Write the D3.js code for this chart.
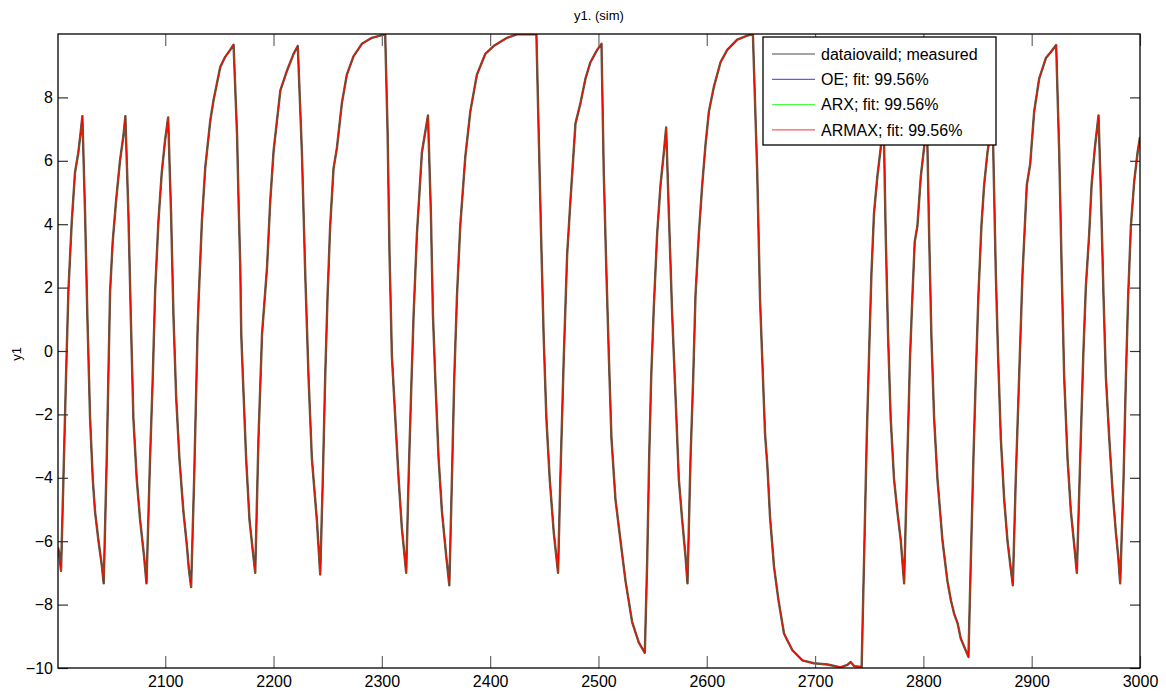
<!DOCTYPE html>
<html>
<head>
<meta charset="utf-8">
<script src="https://cdn.jsdelivr.net/npm/d3@7"></script>
<style>
  html, body { margin: 0; padding: 0; background: #fff; }
  svg { display: block; font-family: "Liberation Sans", Arial, sans-serif; }
</style>
</head>
<body>
<svg id="chart" width="1166" height="697"></svg>
<script>
// ---- data ----
const chartTitle = "y1. (sim)";
const yLabel = "y1";
const xTicks = [2100, 2200, 2300, 2400, 2500, 2600, 2700, 2800, 2900, 3000];
const yTicks = [-10, -8, -6, -4, -2, 0, 2, 4, 6, 8];
const legendLabels = ["dataiovaild; measured", "OE; fit: 99.56%", "ARX; fit: 99.56%", "ARMAX; fit: 99.56%"];
const seriesColors = ["#4a4a4a", "#0000ff", "#00ff00", "#ff0000"];

const sampleIndex = [
2001,2002.0,2003.8,2006.0,2008.4,2010.6,2013.7,2016.7,2019.8,2022.0,2023.5,
2026.0,2028.1,2030.6,2033.1,2035.2,2038.3,2041.4,2043.2,
2046.0,2047.5,2049.1,2051.5,2054.6,2058.3,2061.4,2063.2,
2066.0,2068.2,2070.6,2073.7,2076.8,2080.5,2082.7,
2086.0,2088.5,2090.7,2093.7,2096.8,2099.9,2102.7,
2105.4,2107.6,2110.1,2113.1,2116.8,2119.9,2121.8,2123.9,
2126.7,2129.8,2130.8,2133.9,2137.0,2141.6,2144.6,2150.8,2155.4,2160.0,2163.1,
2166.3,2167.7,2169.3,2170.2,2171.7,2174.7,2177.8,2180.6,2183.1,
2186.1,2189.4,2194.0,2197.0,2200.1,2206.3,2212.5,2218.6,2222.4,
2226.2,2229.3,2232.3,2235.4,2240.0,2243.1,
2245.5,2247.7,2249.9,2252.3,2255.4,2258.5,2263.1,2267.7,2273.9,2281.6,2290.8,2298.5,2303.1,
2305.3,2307.1,2309.3,2312.4,2315.5,2318.5,2322.5,
2324.7,2326.9,2329.3,2332.4,2337.0,2342.6,
2345.3,2347.2,2349.3,2352.4,2355.5,2359.5,2362.3,
2364.7,2366.9,2369.4,2372.4,2377.1,2381.7,2387.8,2395.5,2403.2,2415.6,2424.8,2442.7,
2444.8,2447.0,2449.4,2451.9,2455.0,2458.7,2462.7,
2464.8,2468.0,2471.1,2474.1,2478.8,2483.4,2488.0,2492.6,2498.8,2502.8,
2504.9,2507.4,2509.6,2512.0,2515.7,2520.3,2525.0,2531.1,2537.3,2542.8,
2545.0,2546.8,2548.7,2551.1,2554.2,2557.3,2560.4,2562.5,
2565.0,2568.1,2571.2,2574.2,2577.3,2580.4,2582.2,
2585.0,2587.5,2589.6,2592.7,2595.8,2598.9,2602.0,2606.6,2612.7,2618.9,2628.1,2637.4,2642.6,
2646.6,2649.2,2653.8,2656.0,2658.4,2662.1,2666.2,2671.3,2674.5,2679.1,2688.3,2698.8,2711.6,2723.6,
2729.8,2732.9,2736.0,2743.0,
2745.2,2747.7,2749.8,2752.0,2754.4,2757.5,2760.6,2762.8,
2763.7,2765.2,2767.4,2769.8,2772.9,2776.0,2779.1,2782.2,
2785.2,2787.7,2789.9,2792.0,2794.5,2797.6,2800.6,2802.8,
2803.7,2805.3,2807.4,2809.9,2813.0,2817.6,2822.2,2825.4,2828.4,2831.6,2834.5,2841.6,
2843.8,2846.2,2848.4,2850.8,2853.6,2856.1,2859.2,2863.8,
2864.4,2866.9,2869.0,2871.5,2874.6,2877.6,2880.7,2882.6,
2885.3,2888.4,2891.5,2895.5,2898.6,2902.3,2906.9,2913.1,2917.7,2922.6,
2925.4,2927.8,2930.0,2933.1,2936.2,2939.2,2941.7,
2944.8,2947.6,2950.0,2953.1,2955.3,2958.3,2961.7,
2963.9,2966.3,2968.5,2971.6,2974.7,2977.7,2979.9,2981.7,
2984.8,2987.0,2989.1,2991.6,2994.7,2997.8,3000
];

const measured = [
-6.2,-6.36,-6.94,-4.04,-0.82,1.89,4.08,5.63,6.27,6.92,7.41,
4.34,1.12,-2.11,-4.04,-5.07,-5.97,-6.75,-7.33,
-3.39,-0.82,1.89,3.44,4.73,6.02,6.79,7.41,
4.34,1.12,-2.11,-4.04,-5.33,-6.49,-7.33,
-3.39,-0.82,1.89,4.08,5.63,6.66,7.37,
4.34,1.12,-1.46,-3.39,-5.07,-6.10,-6.87,-7.45,
-4.04,0.54,1.59,4.12,5.80,7.27,7.91,8.96,9.28,9.50,9.66,
6.85,4.75,2.64,0.54,-0.82,-3.39,-5.33,-6.23,-7.00,
-2.75,0.54,2.64,4.75,6.33,8.22,8.85,9.38,9.62,
6.27,2.41,-0.82,-3.39,-5.33,-7.05,
-4.04,-0.82,1.76,3.95,5.76,6.40,7.82,8.72,9.30,9.69,9.88,9.95,9.99,
6.92,3.05,-0.17,-2.11,-4.04,-5.59,-7.00,
-4.04,-1.46,1.12,3.70,6.27,7.43,
4.34,1.12,-0.82,-3.39,-5.07,-6.49,-7.39,
-4.04,-0.82,1.76,3.95,6.14,7.56,8.72,9.37,9.62,9.88,9.99,9.99,
6.92,3.70,0.47,-2.11,-4.04,-5.71,-7.00,
-4.04,-0.17,3.05,4.73,7.18,7.82,8.59,9.11,9.50,9.69,
5.63,2.41,-0.17,-2.75,-4.68,-5.97,-7.26,-8.55,-9.20,-9.52,
-6.62,-3.39,-0.82,1.37,3.70,5.24,6.27,7.05,
4.34,1.12,-1.46,-4.04,-5.33,-6.49,-7.33,
-3.39,-0.82,1.76,3.70,5.24,6.53,7.56,8.34,9.11,9.50,9.82,9.95,9.99,
5.63,1.61,-2.60,-3.65,-5.23,-6.81,-7.86,-8.91,-9.13,-9.44,-9.76,-9.85,-9.89,-9.98,
-9.90,-9.81,-9.94,-9.97,
-6.62,-2.75,-0.17,2.41,4.34,5.50,6.40,7.2,
6.53,3.70,0.47,-2.11,-4.04,-5.07,-5.97,-7.33,
-3.39,-0.17,1.76,3.44,3.95,5.50,6.40,7.2,
6.53,3.70,0.47,-2.11,-4.04,-5.97,-7.26,-7.86,-8.29,-8.59,-9.07,-9.65,
-6.62,-3.39,-0.82,1.76,3.95,5.24,6.27,7.3,
6.53,2.41,-0.17,-2.75,-4.68,-5.97,-6.87,-7.39,
-4.04,-0.82,2.41,5.24,5.89,7.56,8.59,9.24,9.43,9.65,
6.27,2.41,-0.82,-3.39,-5.07,-6.10,-7.00,
-3.39,-0.17,2.02,3.70,5.24,6.40,7.43,
4.98,1.76,-0.82,-2.75,-4.43,-5.71,-6.49,-7.33,
-4.04,-0.82,1.76,3.95,5.37,6.27,6.75
];
// the three model simulations coincide with the measurement at this scale (fit 99.56%)
const oeSim = measured;
const arxSim = measured;
const armaxSim = measured;
const allSeries = [measured, oeSim, arxSim, armaxSim];

// ---- drawing ----
const svg = d3.select("#chart");
const W = 1166, H = 697;
const m = { left: 58, right: 1140, top: 34, bottom: 668 };

const x = d3.scaleLinear().domain([2001, 3000]).range([m.left, m.right]);
const y = d3.scaleLinear().domain([-10, 10]).range([m.bottom, m.top]);

svg.append("rect").attr("width", W).attr("height", H).attr("fill", "#fff");

svg.append("defs").append("clipPath").attr("id", "clip")
  .append("rect").attr("x", m.left).attr("y", m.top)
  .attr("width", m.right - m.left).attr("height", m.bottom - m.top);

// lines
const line = d3.line().x((d, i) => x(sampleIndex[i])).y(d => y(d));
const widths = [2.4, 1, 1, 1.1];
const plot = svg.append("g").attr("clip-path", "url(#clip)");
allSeries.forEach((s, k) => {
  plot.append("path").datum(s)
    .attr("fill", "none")
    .attr("stroke", k === 0 ? "#6b5040" : seriesColors[k])
    .attr("stroke-width", widths[k])
    .attr("stroke-linejoin", "round")
    .attr("d", line);
});

// axes
const fontSize = 16;
function styleAxis(g, tickColor) {
  g.select(".domain").remove();
  g.selectAll(".tick line").attr("stroke", tickColor).attr("stroke-width", 1.2);
  g.selectAll(".tick text").attr("fill", "#000").style("font-size", fontSize + "px")
    .style("font-family", "'Liberation Sans', Arial, sans-serif");
}
svg.append("g").attr("transform", `translate(0,${m.bottom})`)
  .call(d3.axisBottom(x).tickValues(xTicks).tickFormat(d3.format("d")).tickSizeInner(-12).tickSizeOuter(0).tickPadding(8))
  .call(g => styleAxis(g, "#666"));
svg.append("g").attr("transform", `translate(0,${m.top})`)
  .call(d3.axisTop(x).tickValues(xTicks).tickFormat("").tickSizeInner(-12).tickSizeOuter(0))
  .call(g => styleAxis(g, "#666"));
svg.append("g").attr("transform", `translate(${m.left},0)`)
  .call(d3.axisLeft(y).tickValues(yTicks).tickFormat(d3.format("d")).tickSizeInner(-10).tickSizeOuter(0).tickPadding(5))
  .call(g => styleAxis(g, "#333"));
svg.append("g").attr("transform", `translate(${m.right},0)`)
  .call(d3.axisRight(y).tickValues(yTicks).tickFormat("").tickSizeInner(-10).tickSizeOuter(0))
  .call(g => styleAxis(g, "#333"));

// box
svg.append("rect").attr("x", m.left).attr("y", m.top)
  .attr("width", m.right - m.left).attr("height", m.bottom - m.top)
  .attr("fill", "none").attr("stroke", "#000").attr("stroke-width", 1.3);

// title + y label
svg.append("text").attr("x", (m.left + m.right) / 2).attr("y", 20)
  .attr("text-anchor", "middle").style("font-size", "13px").text(chartTitle);
svg.append("text").attr("transform", `translate(21,354) rotate(-90)`)
  .attr("text-anchor", "middle").style("font-size", "13px").text(yLabel);

// legend
const lg = svg.append("g");
lg.append("rect").attr("x", 763).attr("y", 37).attr("width", 233).attr("height", 108)
  .attr("fill", "#fff").attr("stroke", "#000").attr("stroke-width", 1.3);
legendLabels.forEach((lab, i) => {
  const cy = 54 + i * 25.3;
  lg.append("line").attr("x1", 772).attr("x2", 815).attr("y1", cy).attr("y2", cy)
    .attr("stroke", seriesColors[i]).attr("stroke-width", 1).attr("opacity", i === 0 ? 1 : 0.8);
  lg.append("text").attr("x", 821).attr("y", cy).attr("dy", "0.35em")
    .style("font-size", "16px").text(lab);
});
</script>
</body>
</html>
